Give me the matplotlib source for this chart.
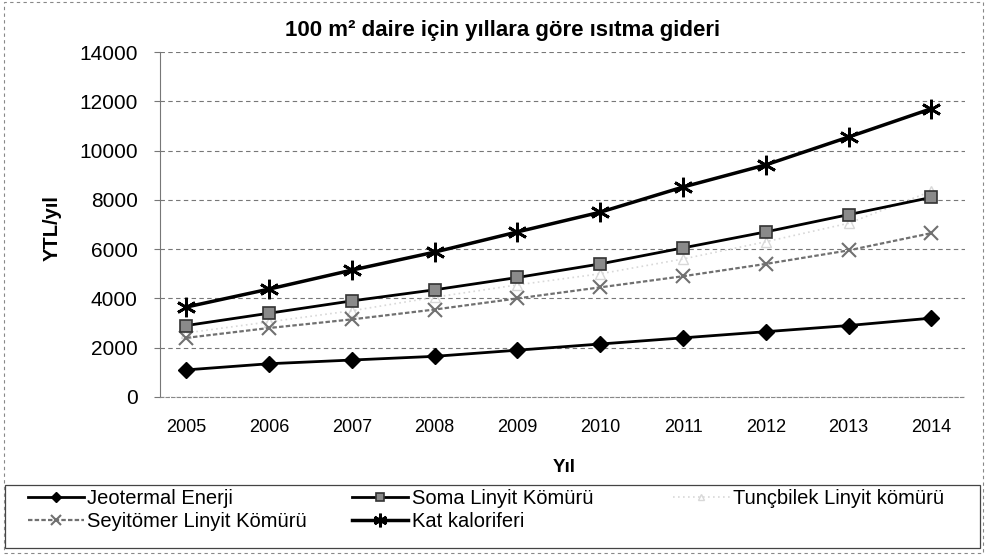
import matplotlib.pyplot as plt
from matplotlib.patches import Rectangle

plt.rcParams['font.family'] = ['Liberation Sans', 'DejaVu Sans']

years = ['2005', '2006', '2007', '2008', '2009', '2010', '2011', '2012', '2013', '2014']

jeotermal = [1100, 1350, 1500, 1650, 1900, 2150, 2400, 2650, 2900, 3200]
soma = [2900, 3400, 3900, 4350, 4850, 5400, 6050, 6700, 7400, 8100]
tuncbilek = [2600, 3050, 3500, 4050, 4550, 5000, 5600, 6300, 7050, 8350]
seyitomer = [2400, 2800, 3150, 3550, 4000, 4450, 4900, 5400, 5950, 6650]
kat_kaloriferi = [3650, 4380, 5150, 5880, 6700, 7500, 8520, 9420, 10550, 11700]

y_ticks = [0, 2000, 4000, 6000, 8000, 10000, 12000, 14000]

fig = plt.figure(figsize=(9.87, 5.55), dpi=100)
ax = fig.add_axes([0.162, 0.2847, 0.816, 0.6216])

x = list(range(len(years)))

h_jeo, = ax.plot(x, jeotermal, color='black', lw=2, marker='D', ms=8,
                 mfc='black', mec='black', label='Jeotermal Enerji', zorder=5)
h_soma, = ax.plot(x, soma, color='black', lw=2, marker='s', ms=9,
                  mfc='#8a8a8a', mec='#333333', mew=1.2,
                  label='Soma Linyit Kömürü', zorder=5)
h_tunc, = ax.plot(x, tuncbilek, color='#d8d8d8', lw=1.2, ls=(0, (1, 2)),
                  marker='^', ms=7, mfc='none', mec='#d8d8d8',
                  label='Tunçbilek Linyit kömürü', zorder=4)
h_sey, = ax.plot(x, seyitomer, color='#707070', lw=1.6, ls=(0, (2, 1)),
                 marker='x', ms=10, mew=1.5, mec='#707070',
                 label='Seyitömer Linyit Kömürü', zorder=4)
h_kat, = ax.plot(x, kat_kaloriferi, color='black', lw=2.5, marker=(6, 2, 0),
                 ms=14, mew=2, mec='black', label='Kat kaloriferi', zorder=6)

ax.set_xlim(-0.32, 9.41)
ax.set_ylim(0, 14000)
ax.set_xticks(x)
ax.set_xticklabels(years, fontsize=13)
ax.set_yticks(y_ticks)
ax.set_yticklabels([str(v) for v in y_ticks], fontsize=15)
ax.tick_params(axis='x', length=0, pad=16)
ax.tick_params(axis='y', length=4, width=0.8, color='#777777', pad=12)

ax.grid(True, axis='y', color='#777777', lw=0.8, ls=(0, (4, 3)))
ax.set_axisbelow(True)
for s in ['top', 'right']:
    ax.spines[s].set_visible(False)
ax.spines['left'].set_color('#777777')
ax.spines['bottom'].set_color('#888888')
ax.spines['bottom'].set_linestyle((0, (3, 2)))

fig.text(0.509, 0.945, '100 m² daire için yıllara göre ısıtma gideri',
         ha='center', va='center', fontsize=16, fontweight='bold')
fig.text(0.053, 0.589, 'YTL/yıl', rotation=90, ha='center', va='center',
         fontsize=14.5, fontweight='bold')
fig.text(0.572, 0.157, 'Yıl', ha='center', va='center',
         fontsize=13.5, fontweight='bold')

# legend: first two columns, then the third column on its own
leg_opts = dict(fontsize=14.5, frameon=False, handlelength=2.8, handletextpad=0.15,
                borderpad=0, labelspacing=0.2, borderaxespad=0, markerscale=0.7,
                loc='upper left')
left_handles = [h_jeo, h_sey, h_soma, h_kat]
leg1 = fig.legend(handles=left_handles, labels=[h.get_label() for h in left_handles],
                  ncol=2, columnspacing=2.25, bbox_to_anchor=(0.028, 0.119), **leg_opts)
leg2 = fig.legend(handles=[h_tunc], labels=[h_tunc.get_label()],
                  bbox_to_anchor=(0.682, 0.119), **leg_opts)

fig.patches.append(Rectangle((0.005, 0.013), 0.988, 0.113, transform=fig.transFigure,
                             fill=False, edgecolor='#444444', lw=0.9))

# dashed outer border of the chart
fig.patches.append(Rectangle((0.004, 0.004), 0.992, 0.992, transform=fig.transFigure,
                             fill=False, edgecolor='#888888', lw=0.8, ls=(0, (3, 3))))

fig.savefig('out.png', dpi=100)
